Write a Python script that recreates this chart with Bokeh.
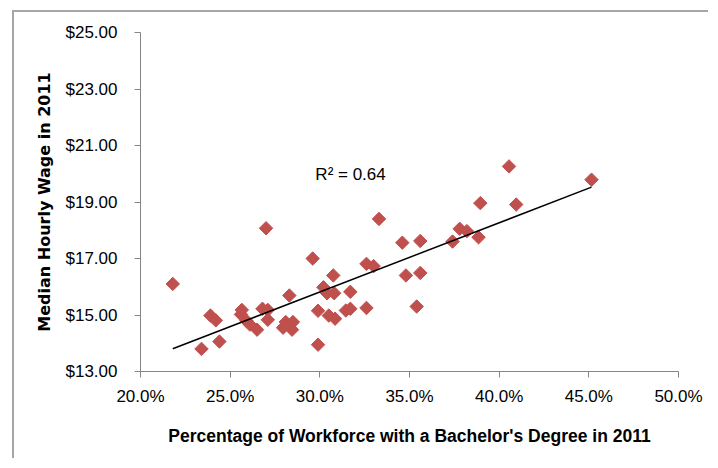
import numpy as np
from bokeh.plotting import figure
from bokeh.models import NumeralTickFormatter, FixedTicker, Label
from bokeh.embed import file_html
from bokeh.resources import INLINE

# Percentage of workforce with a bachelor's degree (2011), in percent
bachelor_pct = [21.8, 23.4, 23.9, 24.2, 24.4, 25.65, 25.6, 25.9, 26.1, 26.5,
                26.8, 27.1, 27.1, 27.0, 27.95, 28.1, 28.5, 28.45, 28.3, 29.6,
                29.9, 29.9, 30.2, 30.4, 30.8, 30.75, 30.5, 30.85, 31.7, 31.45,
                31.7, 32.6, 32.6, 33.0, 33.3, 34.6, 35.6, 34.8, 35.6, 35.4,
                37.4, 37.8, 38.2, 38.85, 38.95, 40.55, 40.95, 45.15]
# Median hourly wage (2011), dollars
median_wage = [16.10, 13.80, 14.98, 14.81, 14.06, 15.18, 15.02, 14.80, 14.66, 14.48,
               15.22, 15.18, 14.83, 18.07, 14.55, 14.75, 14.75, 14.48, 15.69, 17.00,
               15.15, 13.95, 15.98, 15.77, 15.77, 16.40, 14.98, 14.87, 15.82, 15.16,
               15.22, 15.25, 16.81, 16.73, 18.40, 17.56, 17.62, 16.40, 16.49, 15.30,
               17.60, 18.05, 17.97, 17.75, 18.96, 20.26, 18.91, 19.79]

x_tick_pct = [20, 25, 30, 35, 40, 45, 50]
y_tick_dollars = [13, 15, 17, 19, 21, 23, 25]
r2_text = "R\u00b2 = 0.64"
r2_pos = (29.75, 19.97)

x = np.array(bachelor_pct) / 100.0
y = np.array(median_wage)

p = figure(width=696, height=448,
           x_range=(0.20, 0.50), y_range=(13, 25),
           output_backend="svg", toolbar_location=None,
           min_border_left=126, min_border_right=32,
           min_border_top=20, min_border_bottom=89,
           background_fill_color="white", border_fill_color="white")
p.margin = (10, 0, 0, 12)
p.styles = {"border-left": "2px solid #a6a6a6", "border-top": "2px solid #a6a6a6"}
p.outline_line_color = None
p.grid.visible = False

TICK_FONT = "Liberation Sans"
for ax in (p.xaxis[0], p.yaxis[0]):
    ax.axis_line_color = "#868686"
    ax.axis_line_width = 1
    ax.major_tick_line_color = "#868686"
    ax.major_tick_in = 0
    ax.major_tick_out = 6
    ax.minor_tick_line_color = None
    ax.major_label_text_font = TICK_FONT
    ax.major_label_text_font_size = "17px"
    ax.major_label_text_color = "black"

p.xaxis.ticker = FixedTicker(ticks=[t / 100.0 for t in x_tick_pct])
p.xaxis.formatter = NumeralTickFormatter(format="0.0%")
p.xaxis.major_label_standoff = 9
p.xaxis.axis_label = "Percentage of Workforce with a Bachelor's Degree in 2011"
p.xaxis.axis_label_text_font = "Liberation Sans"
p.xaxis.axis_label_text_font_style = "bold"
p.xaxis.axis_label_text_font_size = "17.5px"
p.xaxis.axis_label_text_color = "black"
p.xaxis.axis_label_standoff = 17

p.yaxis.ticker = FixedTicker(ticks=y_tick_dollars)
p.yaxis.formatter = NumeralTickFormatter(format="$0.00")
p.yaxis.major_label_standoff = 17
p.yaxis.axis_label = "Median Hourly Wage in 2011"
p.yaxis.axis_label_text_font = "DejaVu Sans"
p.yaxis.axis_label_text_font_style = "bold"
p.yaxis.axis_label_text_font_size = "16px"
p.yaxis.axis_label_text_color = "black"
p.yaxis.axis_label_standoff = 9

# Scatter points (diamonds)
p.scatter(x, y, marker="square", angle=np.pi / 4, size=9.5,
          fill_color="#C0504D", line_color="#C0504D", line_width=1)

# Linear trend line
slope, intercept = np.polyfit(x, y, 1)
xs = np.array([x.min(), x.max()])
p.line(xs, slope * xs + intercept, line_color="black", line_width=1.5)

p.add_layout(Label(x=r2_pos[0] / 100.0, y=r2_pos[1], text=r2_text,
                   text_font="Liberation Sans", text_font_size="17px",
                   text_color="black", text_baseline="middle", text_align="left"))

open("out.html", "w").write(file_html(p, INLINE))
